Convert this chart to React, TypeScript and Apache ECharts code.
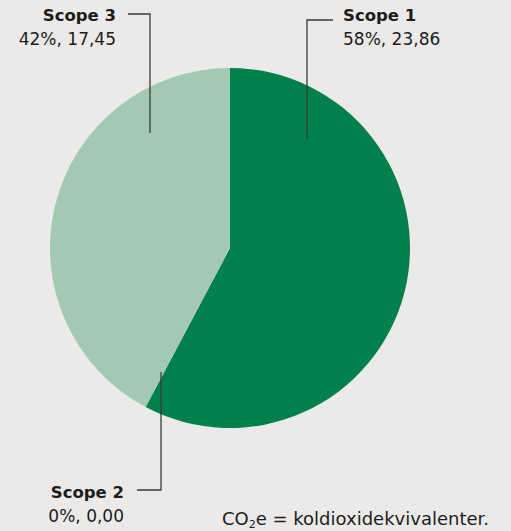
import React, { useEffect, useRef } from "react";
import * as echarts from "echarts";

const categories = ["Scope 1", "Scope 2", "Scope 3"];
const values = [23.86, 0.0, 17.45];
const colors = ["#00804b", "#a3c9b3", "#a3c9b3"];
const footnote = "koldioxidekvivalenter.";

const FONT = "DejaVu Sans";
const BG = "#ebeae8";
const TEXT = "#1c1c1c";
const LINE = "#3a3a3a";

function fmt(v: number) {
  return v.toFixed(2).replace(".", ",");
}

export default function App() {
  const ref = useRef<HTMLDivElement>(null);
  useEffect(() => {
    document.body.style.margin = "0";
    document.body.style.background = BG;
    const chart = echarts.init(ref.current!, null, { renderer: "svg" });
    const total = values.reduce((a, b) => a + b, 0);
    const pct = values.map((v) => Math.round((v / total) * 100) + "%");
    const labelText = (i: number) => `${pct[i]}, ${fmt(values[i])}`;

    const labelPos = [
      { x: 343, y: 15, align: "left" },
      { x: 124, y: 492, align: "right" },
      { x: 116, y: 15, align: "right" },
    ];
    const leader = [
      [[307, 138], [307, 20], [333, 20]],
      [[161, 372], [161, 490], [137, 490]],
      [[150, 133], [150, 14], [128, 14]],
    ];

    const graphics: any[] = [];
    categories.forEach((c, i) => {
      graphics.push({
        type: "polyline",
        shape: { points: leader[i] },
        style: { stroke: LINE, lineWidth: 1.3, fill: "none" },
        z: 10,
      });
      graphics.push({
        type: "text",
        x: labelPos[i].x,
        y: labelPos[i].y,
        style: {
          text: c,
          font: `bold 16.5px "${FONT}"`,
          fill: TEXT,
          align: labelPos[i].align,
          verticalAlign: "middle",
        },
      });
      graphics.push({
        type: "text",
        x: labelPos[i].x,
        y: labelPos[i].y + 24,
        style: {
          text: labelText(i),
          font: `17px "${FONT}"`,
          fill: TEXT,
          align: labelPos[i].align,
          verticalAlign: "middle",
        },
      });
    });
    graphics.push({
      type: "text",
      x: 489,
      y: 518,
      style: {
        text: "{a|CO}{sub|2}{a|e = " + footnote + "}",
        align: "right",
        verticalAlign: "middle",
        rich: {
          a: { fontFamily: FONT, fontSize: 18, fill: TEXT, color: TEXT, lineHeight: 22 },
          sub: {
            fontFamily: FONT,
            fontSize: 11,
            color: TEXT,
            fill: TEXT,
            lineHeight: 22,
            padding: [12, 0, 0, 0],
          },
        },
      },
    });

    chart.setOption({
      animation: false,
      backgroundColor: BG,
      series: [
        {
          type: "pie",
          center: [230, 248],
          radius: 180,
          startAngle: 90,
          clockwise: true,
          label: { show: false },
          labelLine: { show: false },
          emphasis: { disabled: true },
          itemStyle: { borderWidth: 0 },
          data: categories.map((c, i) => ({
            name: c,
            value: values[i],
            itemStyle: { color: colors[i] },
          })),
        },
      ],
      graphic: graphics,
    });
    return () => chart.dispose();
  }, []);
  return <div ref={ref} style={{ width: 511, height: 531 }} />;
}
